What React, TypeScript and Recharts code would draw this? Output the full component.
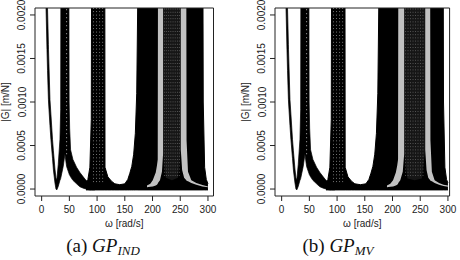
import {
  ComposedChart,
  Area,
  XAxis,
  YAxis,
  ReferenceLine,
  ReferenceArea,
} from 'recharts';

// each band row: [omega (rad/s), lower |G|, upper |G|] of the bundle of FRF curves
type Band = [number, number, number];

// anything drawn at this height runs off the top of the plot and is clipped
const OFF = 0.0022;

const xTicks = [0, 50, 100, 150, 200, 250, 300];
const yTicks = [0, 0.0005, 0.001, 0.0015, 0.002];
const Y_DOMAIN: [number, number] = [-0.00008, 0.00208];

// anti-resonance near 27 rad/s and the first resonance bundle with its tail
const firstMode: Band[] = [
  [7.9, 0.00208, OFF],
  [9.6, 0.0016, OFF],
  [10.6, 0.00136, 0.00208],
  [12.2, 0.00103, 0.00166],
  [12.4, 0.001, 0.0016],
  [15, 0.00073, 0.00103],
  [16.7, 0.00057, 0.00086],
  [19.6, 0.00035, 0.00057],
  [21.2, 0.00022, 0.00044],
  [24, 0.00007, 0.00023],
  [25.8, 0.0, 0.00013],
  [27.3, -0.00001, 0.0001],
  [29.9, 0.00003, 0.00028],
  [33, 0.0001, 0.00057],
  [34.3, 0.00012, 0.00091],
  [34.6, 0.00013, OFF],
  [38.9, 0.00026, OFF],
  [42, 0.0004, OFF],
  [45, 0.00026, OFF],
  [49.2, 0.00018, OFF],
  [49.6, 0.00017, 0.001],
  [50.5, 0.00016, 0.0007],
  [52.2, 0.00014, 0.00045],
  [56.4, 0.0001, 0.00034],
  [63, 0.00006, 0.00025],
  [69, 0.000026, 0.00019],
  [75, 0.00001, 0.00014],
  [80, 0.0, 0.0001],
  [87, -0.00001, 0.00007],
  [96, -0.00001, 0.00005],
];

// second resonance bundle, the valley and the high-frequency bundles
const upperModesInd: Band[] = [
  [80, -0.00001, 0.00003],
  [83.4, -0.00001, 0.00011],
  [87, -0.00001, 0.00025],
  [89.5, -0.00001, 0.0008],
  [90, -0.00001, OFF],
  [114, -0.00001, OFF],
  [114.3, -0.00001, 0.00025],
  [119.4, -0.00001, 0.00014],
  [126, -0.00001, 0.00009],
  [132, -0.00001, 0.00006],
  [141, -0.00001, 0.00005],
  [150, -0.00001, 0.00006],
  [155.4, -0.00001, 0.00011],
  [159, -0.00001, 0.00018],
  [162.6, -0.00001, 0.00026],
  [166, -0.00001, 0.0004],
  [169, -0.00001, 0.00064],
  [171.5, -0.00001, 0.0011],
  [173.4, -0.00001, OFF],
  [291, -0.00001, OFF],
  [291.5, -0.00001, 0.001],
  [294, -0.00001, 0.00025],
  [297, -0.00001, 0.00011],
  [300, -0.00001, 0.00006],
];

const upperModesMv: Band[] = [
  [80, -0.00001, 0.00003],
  [83.4, -0.00001, 0.00011],
  [87, -0.00001, 0.00025],
  [89.5, -0.00001, 0.0008],
  [90, -0.00001, OFF],
  [114.3, -0.00001, OFF],
  [114.6, -0.00001, 0.00025],
  [119.6, -0.00001, 0.00014],
  [126, -0.00001, 0.00009],
  [132, -0.00001, 0.00006],
  [142, -0.00001, 0.00005],
  [152, -0.00001, 0.00006],
  [157.4, -0.00001, 0.00011],
  [161, -0.00001, 0.00018],
  [164.6, -0.00001, 0.00026],
  [168, -0.00001, 0.0004],
  [171, -0.00001, 0.00064],
  [173.5, -0.00001, 0.0011],
  [175.4, -0.00001, OFF],
  [291.6, -0.00001, OFF],
  [292, -0.00001, 0.001],
  [294.5, -0.00001, 0.00025],
  [297.5, -0.00001, 0.00011],
  [300, -0.00001, 0.00007],
];

// light grey curves: rising flank of the ~214 rad/s mode, falling flank of the upper mode
const grayLowInd: Band[] = [
  [190, 0.00002, 0.00004],
  [196, 0.000025, 0.00006],
  [200.4, 0.00003, 0.0001],
  [205.8, 0.00004, 0.00019],
  [208, 0.00005, 0.00027],
  [209.4, 0.00006, 0.00034],
  [209.8, 0.00007, OFF],
  [213.4, 0.0001, OFF],
  [217, 0.0002, OFF],
  [219, 0.0004, OFF],
];

const grayHighInd: Band[] = [
  [251, 0.00045, OFF],
  [253.4, 0.00022, OFF],
  [257, 0.00013, OFF],
  [261, 0.0001, OFF],
  [261.4, 0.000095, 0.00056],
  [264, 0.00009, 0.0002],
  [270, 0.00007, 0.0001],
  [279, 0.00005, 0.00007],
  [290, 0.00003, 0.000045],
  [300, 0.00002, 0.00003],
];

const grayLowMv: Band[] = [
  [190, 0.00002, 0.00004],
  [196, 0.000025, 0.00006],
  [201, 0.00003, 0.0001],
  [206, 0.00004, 0.00019],
  [208.5, 0.00005, 0.00027],
  [210, 0.00006, 0.00034],
  [210.4, 0.00007, OFF],
  [214, 0.0001, OFF],
  [218.5, 0.0002, OFF],
  [221, 0.0004, OFF],
];

const grayHighMv: Band[] = [
  [259, 0.00045, OFF],
  [261.4, 0.00022, OFF],
  [264.5, 0.00013, OFF],
  [268, 0.0001, OFF],
  [268.4, 0.000095, 0.00056],
  [271, 0.00009, 0.0002],
  [276, 0.00007, 0.0001],
  [284, 0.00005, 0.00007],
  [292, 0.000035, 0.00005],
  [300, 0.000025, 0.00004],
];

// densely packed curves between the two grey flanks
const midInd: Band[] = [
  [219, 0.0004, OFF],
  [224, 0.00013, OFF],
  [235, 0.0001, OFF],
  [246, 0.00013, OFF],
  [251, 0.00045, OFF],
];

const midMv: Band[] = [
  [221, 0.0004, OFF],
  [227, 0.00012, OFF],
  [240, 0.0001, OFF],
  [253, 0.00012, OFF],
  [259, 0.00045, OFF],
];

// sampled points showing through the dense bundles
const peakStreaks = [45];
const secondStreaks = [93.5, 99, 104.5, 110];
const midStreaksInd = [221.5, 225, 229, 233, 237, 241, 245, 248.5];
const midStreaksMv = [223.5, 228, 232.5, 237, 241.5, 246, 250.5, 255];

const SANS = '"Liberation Sans", Arial, Helvetica, sans-serif';
const SERIF = '"Liberation Serif", "Times New Roman", serif';
const INK = '#222';

const toRows = (band: Band[]) => band.map(([w, lo, hi]) => ({ w, g: [lo, hi] }));

function YTick(props: any) {
  const { x, y, payload } = props;
  const cx = x - 8;
  return (
    <text
      x={cx}
      y={y}
      dy="0.35em"
      textAnchor="middle"
      transform={`rotate(-90, ${cx}, ${y})`}
      fontSize={10}
      fontFamily={SANS}
      fill={INK}
    >
      {Number(payload.value).toFixed(4)}
    </text>
  );
}

interface PanelProps {
  left: number;
  width: number;
  xMax: number;
  plotRight: number;
  upper: Band[];
  grayLow: Band[];
  grayHigh: Band[];
  mid: Band[];
  midStreaks: number[];
  tag: string;
  sub: string;
  captionX: number;
}

function FrfPanel(p: PanelProps) {
  const streak = (w: number, from: number, color: string, dash: string, key: string) => (
    <ReferenceLine
      key={key}
      segment={[{ x: w, y: from }, { x: w, y: OFF }]}
      stroke={color}
      strokeWidth={0.7}
      strokeDasharray={dash}
      ifOverflow="hidden"
    />
  );

  return (
    <div style={{ position: 'absolute', left: p.left, top: 0, width: p.width, height: 260 }}>
      <ComposedChart
        width={p.width}
        height={260}
        margin={{ top: 8, right: p.width - p.plotRight, bottom: 0, left: 0 }}
      >
        <XAxis
          type="number"
          dataKey="w"
          domain={[-12, p.xMax]}
          ticks={xTicks}
          interval={0}
          allowDataOverflow
          height={64}
          axisLine={false}
          tickLine={{ stroke: INK }}
          tickSize={5}
          tickMargin={5}
          tick={{ fill: INK, fontSize: 10, fontFamily: SANS }}
        />
        <YAxis
          type="number"
          domain={Y_DOMAIN}
          ticks={yTicks}
          interval={0}
          allowDataOverflow
          width={35}
          axisLine={false}
          tickLine={{ stroke: INK }}
          tickSize={5}
          tickMargin={0}
          tick={<YTick />}
        />
        <Area data={toRows(firstMode)} dataKey="g" type="linear" stroke="#000" strokeWidth={0.7} fill="#000" fillOpacity={1} dot={false} activeDot={false} isAnimationActive={false} />
        <Area data={toRows(p.upper)} dataKey="g" type="linear" stroke="#000" strokeWidth={1} fill="#000" fillOpacity={1} dot={false} activeDot={false} isAnimationActive={false} />
        <Area data={toRows(p.mid)} dataKey="g" type="linear" stroke="none" fill="#161616" fillOpacity={1} dot={false} activeDot={false} isAnimationActive={false} />
        <Area data={toRows(p.grayLow)} dataKey="g" type="linear" stroke="none" fill="#c2c2c2" fillOpacity={1} dot={false} activeDot={false} isAnimationActive={false} />
        <Area data={toRows(p.grayHigh)} dataKey="g" type="linear" stroke="none" fill="#c2c2c2" fillOpacity={1} dot={false} activeDot={false} isAnimationActive={false} />
        {peakStreaks.map((w, i) => streak(w, 0.0004, '#fff', '1 3', `p${i}`))}
        {secondStreaks.map((w, i) => streak(w, 0.00008, '#d0d0d0', '0.8 2.6', `s${i}`))}
        {p.midStreaks.map((w, i) => streak(w, 0.00015, '#707070', '1 2.2', `m${i}`))}
        <ReferenceArea
          x1={-12}
          x2={p.xMax}
          y1={Y_DOMAIN[0]}
          y2={Y_DOMAIN[1]}
          fill="none"
          stroke={INK}
          strokeWidth={1}
          ifOverflow="visible"
        />
      </ComposedChart>
      <svg
        width={p.width}
        height={260}
        style={{ position: 'absolute', left: 0, top: 0, pointerEvents: 'none' }}
      >
        <text x={(35 + p.plotRight) / 2} y={227} textAnchor="middle" fontSize={10} fontFamily={SANS} fill={INK}>
          ω [rad/s]
        </text>
        <text
          x={5}
          y={102}
          dy="0.35em"
          textAnchor="middle"
          transform="rotate(-90, 5, 102)"
          fontSize={10}
          fontFamily={SANS}
          fill={INK}
        >
          |G| [m/N]
        </text>
        <text x={p.captionX} y={252} textAnchor="middle" fontSize={19} fontFamily={SERIF} fill="#111">
          ({p.tag}){' '}
          <tspan fontStyle="italic">GP</tspan>
          <tspan fontStyle="italic" fontSize={13} dy={3}>
            {p.sub}
          </tspan>
        </text>
      </svg>
    </div>
  );
}

export default function App() {
  return (
    <div style={{ position: 'absolute', left: 0, top: 0, width: 460, height: 260, background: '#fff' }}>
      <FrfPanel
        left={0}
        width={230}
        xMax={310}
        plotRight={213.5}
        upper={upperModesInd}
        grayLow={grayLowInd}
        grayHigh={grayHighInd}
        mid={midInd}
        midStreaks={midStreaksInd}
        tag="a"
        sub="IND"
        captionX={103}
      />
      <FrfPanel
        left={240}
        width={220}
        xMax={303}
        plotRight={209.6}
        upper={upperModesMv}
        grayLow={grayLowMv}
        grayHigh={grayHighMv}
        mid={midMv}
        midStreaks={midStreaksMv}
        tag="b"
        sub="MV"
        captionX={98}
      />
    </div>
  );
}
